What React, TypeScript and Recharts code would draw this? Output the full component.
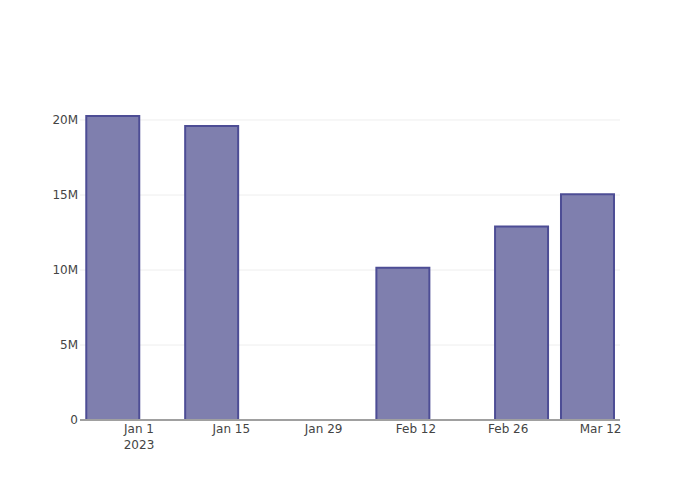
import React from "react";
import { BarChart, Bar, XAxis, YAxis, CartesianGrid } from "recharts";

const dates = ["2022-12-28", "2023-01-12", "2023-02-10", "2023-02-28", "2023-03-10"];
const values = [20270000, 19600000, 10150000, 12900000, 15050000];
const tickDates = ["2023-01-01", "2023-01-15", "2023-01-29", "2023-02-12", "2023-02-26", "2023-03-12"];
const tickLabels = ["Jan 1|2023", "Jan 15", "Jan 29", "Feb 12", "Feb 26", "Mar 12"];
const yTicks = [0, 5000000, 10000000, 15000000, 20000000];
const yTickLabels = ["0", "5M", "10M", "15M", "20M"];

const DAY = 86400000;
const toT = (s: string) => Date.parse(s + "T00:00:00Z");
const data = dates.map((d, i) => ({ t: toT(d), v: values[i] }));
const xTicks = tickDates.map(toT);
const base = toT("2023-01-01");
const xDomain = [base - 8.95 * DAY, base + 72.95 * DAY];

const FONT = "'DejaVu Sans', Verdana, sans-serif";

const XTick = (props: any) => {
  const { x, y, payload } = props;
  const idx = xTicks.indexOf(payload.value);
  const lines = (tickLabels[idx] || "").split("|");
  return (
    <text x={x} y={y} textAnchor="middle" fill="#444" fontSize={12} fontFamily={FONT}>
      {lines.map((l, i) => (
        <tspan key={i} x={x} dy={i === 0 ? 13 : 16}>
          {l}
        </tspan>
      ))}
    </text>
  );
};

export default function App() {
  return (
    <div style={{ position: "absolute", left: 0, top: 0, background: "#fff" }}>
      <BarChart
        width={700}
        height={500}
        data={data}
        margin={{ top: 100, right: 80, bottom: 50, left: 40 }}
        barCategoryGap="10%"
      >
        <CartesianGrid vertical={false} stroke="#eee" strokeWidth={1} horizontalValues={yTicks} />
        <XAxis
          dataKey="t"
          type="number"
          scale="linear"
          domain={xDomain}
          ticks={xTicks}
          interval={0}
          allowDataOverflow
          height={30}
          tickLine={false}
          tickSize={0}
          tickMargin={0}
          tick={<XTick />}
          axisLine={{ stroke: "#a0a0a0", strokeWidth: 2 }}
        />
        <YAxis
          type="number"
          domain={[0, 21333333]}
          ticks={yTicks}
          interval={0}
          allowDataOverflow
          width={40}
          axisLine={false}
          tickLine={false}
          tickSize={0}
          tickMargin={2}
          tickFormatter={(v: number) => yTickLabels[yTicks.indexOf(v)]}
          tick={{ fill: "#444", fontSize: 12, fontFamily: FONT }}
        />
        <Bar
          dataKey="v"
          fill="#7f7fae"
          stroke="#4d4d95"
          strokeWidth={2}
          isAnimationActive={false}
        />
      </BarChart>
    </div>
  );
}
